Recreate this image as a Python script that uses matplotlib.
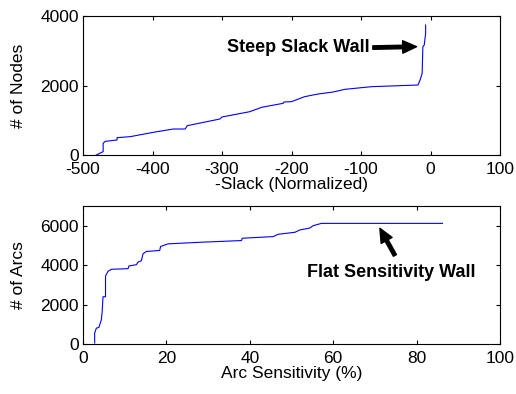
import matplotlib

matplotlib.use("Agg")
import matplotlib.pyplot as plt

# top panel: cumulative node count vs normalized negative slack
slack_x = [-481, -471, -471, -468, -451, -451, -432, -399, -370, -353, -350,
           -303, -300, -260, -243, -212, -211, -200, -181, -162, -140, -123,
           -85, -18, -15, -12, -11, -9, -7, -7]
nodes_y = [0, 96, 336, 393, 432, 499, 528, 652, 748, 748, 844,
           1036, 1094, 1247, 1372, 1487, 1525, 1535, 1679, 1755, 1813, 1890,
           1966, 2014, 2158, 2350, 3117, 3165, 3501, 3741]

# bottom panel: cumulative arc count vs arc sensitivity
sens_x = [2.8, 2.8, 3.2, 3.8, 4.4, 4.6, 4.8, 5.4, 5.4, 6.0, 6.8, 10.8, 11.0,
          12.8, 13.2, 14.0, 14.4, 15.2, 18.4, 18.6, 20.4, 28.4, 38.0, 38.2,
          45.6, 46.8, 50.8, 52.0, 54.4, 55.2, 57.2, 86.2]
arcs_y = [50, 553, 805, 838, 1224, 1643, 2397, 2397, 3453, 3688, 3789, 3822,
          3956, 4023, 4157, 4225, 4577, 4694, 4744, 4945, 5080, 5163, 5247,
          5365, 5448, 5566, 5666, 5784, 5884, 6002, 6119, 6119]

plt.rcParams["font.family"] = ["Liberation Sans", "DejaVu Sans"]
plt.rcParams["font.size"] = 12.5
plt.rcParams["axes.unicode_minus"] = False

fig = plt.figure(figsize=(5.16, 3.94), dpi=100)
ax1 = fig.add_axes([83 / 516, 1 - 155 / 394, 417 / 516, 139 / 394])
ax2 = fig.add_axes([83 / 516, 1 - 344 / 394, 417 / 516, 138 / 394])

arrow = dict(facecolor="black", edgecolor="black", width=2.5, headwidth=9,
             headlength=10, shrink=0)

ax1.plot(slack_x, nodes_y, color="#0000ff", linewidth=0.8)
ax1.set_xlim(-500, 100)
ax1.set_ylim(0, 4000)
ax1.set_xticks([-500, -400, -300, -200, -100, 0, 100])
ax1.set_yticks([0, 2000, 4000])
ax1.set_xlabel("-Slack (Normalized)", labelpad=0)
ax1.set_ylabel("# of Nodes", labelpad=10)
ax1.annotate("Steep Slack Wall", xy=(-20, 3117), xytext=(-87, 3090),
             ha="right", va="center", fontweight="bold", fontsize=13,
             arrowprops=arrow)

ax2.plot(sens_x, arcs_y, color="#0000ff", linewidth=0.8)
ax2.set_xlim(0, 100)
ax2.set_ylim(0, 7000)
ax2.set_xticks([0, 20, 40, 60, 80, 100])
ax2.set_yticks([0, 2000, 4000, 6000])
ax2.set_xlabel("Arc Sensitivity (%)", labelpad=0)
ax2.set_ylabel("# of Arcs", labelpad=10)
ax2.annotate("", xy=(71.2, 5868), xytext=(74.8, 4493), arrowprops=arrow)
ax2.text(74, 3621, "Flat Sensitivity Wall", ha="center", va="center",
         fontweight="bold", fontsize=13)

for ax in (ax1, ax2):
    ax.tick_params(direction="in", top=True, right=True, length=3, pad=3)
    ax.tick_params(axis="x", pad=5)
    for spine in ax.spines.values():
        spine.set_linewidth(0.8)

fig.savefig("out.png", dpi=100)
plt.close(fig)
